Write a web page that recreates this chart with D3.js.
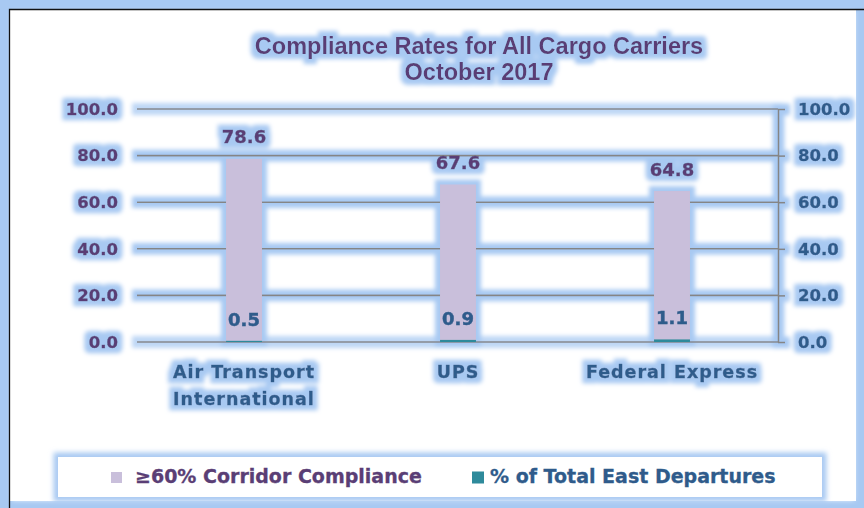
<!DOCTYPE html>
<html><head><meta charset="utf-8">
<script src="https://cdn.jsdelivr.net/npm/d3@7"></script>
<style>
html,body{margin:0;padding:0;background:#fff;overflow:hidden}
svg{display:block}
</style></head>
<body>
<svg id="chart" width="864" height="508"></svg>
<script>
const categories = ["Air Transport International", "UPS", "Federal Express"];
const categoryLines = [["Air Transport", "International"], ["UPS"], ["Federal Express"]];
const compliance = [78.6, 67.6, 64.8];
const eastDepartures = [0.5, 0.9, 1.1];
const yTicks = [0, 20, 40, 60, 80, 100];
const seriesNames = ["\u226560% Corridor Compliance", "% of Total East Departures"];
const titleLines = ["Compliance Rates for All Cargo Carriers", "October 2017"];

const W = 864, H = 508;
const purple = "#5a3e75", blue = "#2f5b8b", lav = "#c9bfdb", teal = "#2e8a9b", glowC = "#a8c9f2";
const svg = d3.select("#chart");
const defs = svg.append("defs");
function glowFilter(id, r, sd) {
  const f = defs.append("filter").attr("id", id).attr("filterUnits", "userSpaceOnUse")
    .attr("x", -20).attr("y", -20).attr("width", W + 40).attr("height", H + 40);
  f.append("feMorphology").attr("in", "SourceAlpha").attr("operator", "dilate").attr("radius", r).attr("result", "d");
  f.append("feGaussianBlur").attr("in", "d").attr("stdDeviation", sd).attr("result", "b");
  f.append("feFlood").attr("flood-color", glowC).attr("result", "c");
  f.append("feComposite").attr("in", "c").attr("in2", "b").attr("operator", "in").attr("result", "g");
  const m = f.append("feMerge");
  m.append("feMergeNode").attr("in", "g");
  m.append("feMergeNode").attr("in", "SourceGraphic");
}
glowFilter("glow", 4.5, 2.2);
const blurF = defs.append("filter").attr("id", "soft").attr("filterUnits", "userSpaceOnUse")
  .attr("x", -20).attr("y", -20).attr("width", W + 40).attr("height", H + 40);
blurF.append("feGaussianBlur").attr("stdDeviation", 2.5);

// outer frame
svg.append("rect").attr("x", 0).attr("y", 0).attr("width", W).attr("height", H).attr("fill", glowC);
svg.append("rect").attr("x", 12).attr("y", 12).attr("width", 842).attr("height", 488)
  .attr("fill", "#fff").attr("filter", "url(#soft)");
svg.append("rect").attr("x", 10).attr("y", 10).attr("width", 846).attr("height", 491).attr("fill", "#fff");
svg.append("path").attr("d", "M9.5,508V9.5H864").attr("fill", "none").attr("stroke", "#111").attr("stroke-width", 1.3);

// title
const tg = svg.append("g").attr("filter", "url(#glow)");
tg.selectAll("text").data(titleLines).join("text")
  .attr("x", 479).attr("y", (d, i) => 54 + i * 26)
  .attr("text-anchor", "middle")
  .attr("font-family", "'Liberation Sans', Arial, sans-serif").attr("font-weight", "bold")
  .attr("font-size", 23.5).attr("fill", purple).text(d => d);

// scales
const x = d3.scaleBand().domain(categories).range([137, 779]).padding(0);
const y = d3.scaleLinear().domain([0, 100]).range([342, 109]);
const barW = x.bandwidth() * 0.168;

const g = svg.append("g").attr("filter", "url(#glow)");
const fmt = d3.format(".1f");
const heavy = (sel, c) => sel.attr("stroke", c).attr("stroke-width", 0.45);

// gridlines
g.append("g").selectAll("line").data(yTicks).join("line")
  .attr("x1", x.range()[0]).attr("x2", x.range()[1] - 1)
  .attr("y1", d => y(d)).attr("y2", d => y(d))
  .attr("stroke", "#858585").attr("stroke-width", 1.6);

// left axis
const axL = g.append("g").attr("transform", `translate(${x.range()[0]},0)`)
  .call(d3.axisLeft(y).tickValues(yTicks).tickFormat(fmt).tickSize(0).tickPadding(19));
axL.select(".domain").remove();
axL.selectAll("text").attr("font-family", "'DejaVu Sans', Verdana, sans-serif").attr("font-weight", "bold")
  .attr("font-size", 16.5).attr("fill", purple).call(heavy, purple);

// right axis
const axR = g.append("g").attr("transform", `translate(${x.range()[1] - 1},0)`)
  .call(d3.axisRight(y).tickValues(yTicks).tickFormat(fmt).tickSize(7).tickSizeOuter(0).tickPadding(13));
axR.select(".domain").attr("stroke", "#858585").attr("stroke-width", 1.6);
axR.selectAll("line").attr("stroke", "#858585").attr("stroke-width", 1.6);
axR.selectAll("text").attr("font-family", "'DejaVu Sans', Verdana, sans-serif").attr("font-weight", "bold")
  .attr("font-size", 16.5).attr("fill", blue).call(heavy, blue);

// bars
const cx = d => x(d) + x.bandwidth() / 2;
g.append("g").selectAll("rect").data(categories).join("rect")
  .attr("x", d => cx(d) - barW / 2).attr("width", barW)
  .attr("y", (d, i) => y(compliance[i])).attr("height", (d, i) => y(0) - y(compliance[i]))
  .attr("fill", lav);
g.append("g").selectAll("rect").data(categories).join("rect")
  .attr("x", d => cx(d) - barW / 2).attr("width", barW)
  .attr("y", (d, i) => y(eastDepartures[i])).attr("height", (d, i) => y(0) - y(eastDepartures[i]))
  .attr("fill", teal);

// data labels
const lblFont = sel => sel.attr("font-family", "'DejaVu Sans', Verdana, sans-serif").attr("font-weight", "bold")
  .attr("font-size", 18).attr("text-anchor", "middle");
g.append("g").selectAll("text").data(categories).join("text")
  .attr("x", cx).attr("y", (d, i) => y(compliance[i]) - 15.5)
  .attr("fill", purple).text((d, i) => fmt(compliance[i])).call(lblFont).call(heavy, purple);
g.append("g").selectAll("text").data(categories).join("text")
  .attr("x", cx).attr("y", (d, i) => y(eastDepartures[i]) - 15)
  .attr("fill", blue).text((d, i) => fmt(eastDepartures[i])).call(lblFont).call(heavy, blue);

// category labels
const cl = g.append("g").selectAll("text").data(categories).join("text")
  .attr("x", cx).attr("y", 378)
  .attr("text-anchor", "middle")
  .attr("font-family", "'DejaVu Sans', Verdana, sans-serif").attr("font-weight", "bold")
  .attr("font-size", 17.5).attr("letter-spacing", 1).attr("fill", blue).call(heavy, blue);
cl.each(function (d, i) {
  d3.select(this).selectAll("tspan").data(categoryLines[i]).join("tspan")
    .attr("x", cx(d)).attr("dy", (t, j) => j === 0 ? 0 : 27).text(t => t);
});

// legend
const lg = svg.append("g");
lg.append("rect").attr("x", 58).attr("y", 457).attr("width", 764).attr("height", 40)
  .attr("fill", "#fff").attr("stroke", glowC).attr("stroke-width", 9).attr("filter", "url(#soft)");
lg.append("rect").attr("x", 58).attr("y", 457).attr("width", 764).attr("height", 40).attr("fill", "#fff");
const legendItems = [
  {name: seriesNames[0], color: lav, tc: purple, mx: 111, ms: 11, tx: 135},
  {name: seriesNames[1], color: teal, tc: blue, mx: 472, ms: 12, tx: 490}
];
legendItems.forEach(it => {
  lg.append("rect").attr("x", it.mx).attr("y", 477.5 - it.ms / 2).attr("width", it.ms).attr("height", it.ms).attr("fill", it.color);
  lg.append("text").attr("x", it.tx).attr("y", 483)
    .attr("font-family", "'DejaVu Sans', Verdana, sans-serif").attr("font-weight", "bold")
    .attr("font-size", 19).attr("fill", it.tc).attr("stroke", it.tc).attr("stroke-width", 0.3).text(it.name);
});
</script>
</body></html>
